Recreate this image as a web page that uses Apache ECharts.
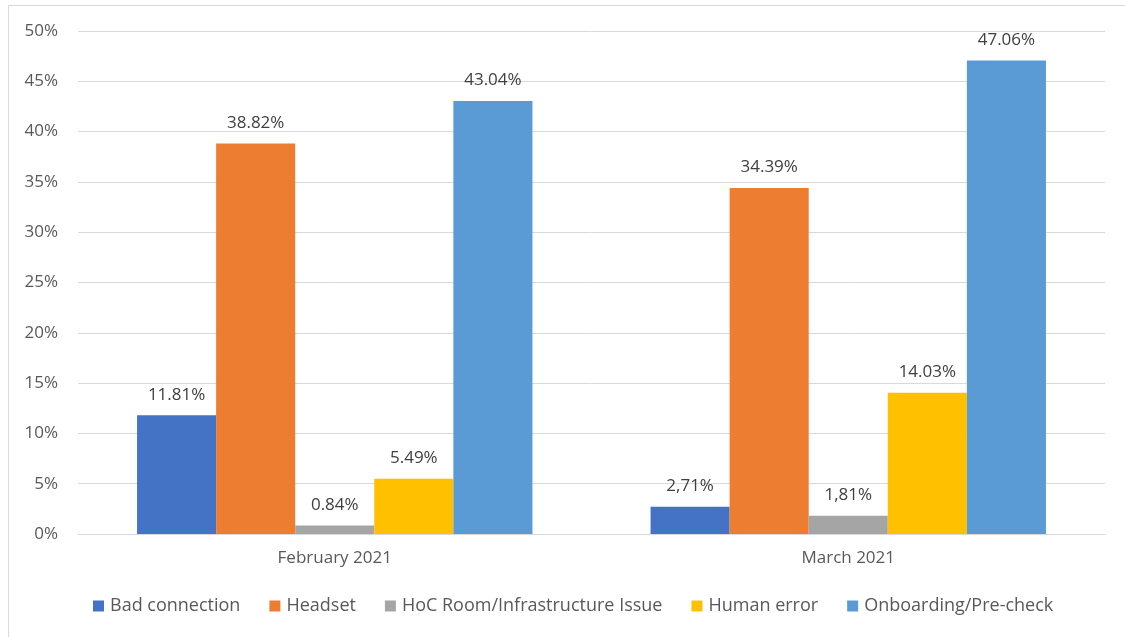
<!DOCTYPE html>
<html>
<head>
<meta charset="utf-8">
<script src="https://cdn.jsdelivr.net/npm/echarts@6/dist/echarts.min.js"></script>
<style>
html,body{margin:0;padding:0;background:#fff;}
#frame{position:absolute;left:8px;top:5px;width:1130px;height:640px;border:1px solid #d9d9d9;box-sizing:border-box;}
#chart{position:absolute;left:0;top:0;width:1125px;height:637px;}
</style>
</head>
<body>
<div id="frame"></div>
<div id="chart"></div>
<script>
const categories = ['February 2021', 'March 2021'];
const seriesNames = ['Bad connection', 'Headset', 'HoC Room/Infrastructure Issue', 'Human error', 'Onboarding/Pre-check'];
const badConnection = [11.81, 2.71];
const headset = [38.82, 34.39];
const hocRoom = [0.84, 1.81];
const humanError = [5.49, 14.03];
const onboarding = [43.04, 47.06];
const badConnectionLabels = ['11.81%', '2,71%'];
const headsetLabels = ['38.82%', '34.39%'];
const hocRoomLabels = ['0.84%', '1,81%'];
const humanErrorLabels = ['5.49%', '14.03%'];
const onboardingLabels = ['43.04%', '47.06%'];
const colors = ['#4472C4', '#ED7D31', '#A5A5A5', '#FFC000', '#5B9BD5'];

const values = [badConnection, headset, hocRoom, humanError, onboarding];
const labels = [badConnectionLabels, headsetLabels, hocRoomLabels, humanErrorLabels, onboardingLabels];
const font = "'Open Sans', 'Noto Sans', sans-serif";

const chart = echarts.init(document.getElementById('chart'));
chart.setOption({
  animation: false,
  textStyle: {fontFamily: font},
  grid: {left: 78, right: 20, top: 31, bottom: 103, containLabel: false},
  legend: {
    bottom: 17, left: 88,
    itemWidth: 11, itemHeight: 11, itemGap: 29,
    icon: 'rect',
    textStyle: {color: '#595959', fontSize: 18, fontFamily: font, padding: [0, 0, 0, 1]},
    data: seriesNames
  },
  xAxis: {
    type: 'category', data: categories,
    axisLine: {lineStyle: {color: '#d9d9d9'}},
    axisTick: {show: false},
    axisLabel: {color: '#595959', fontSize: 17, margin: 16}
  },
  yAxis: {
    type: 'value', min: 0, max: 50, interval: 5,
    axisLine: {show: false}, axisTick: {show: false},
    axisLabel: {color: '#595959', fontSize: 17, margin: 20, formatter: v => v + '%'},
    splitLine: {lineStyle: {color: '#d9d9d9'}}
  },
  series: seriesNames.map((n, i) => ({
    name: n, type: 'bar', data: values[i],
    barGap: '0%', barCategoryGap: '23%',
    itemStyle: {color: colors[i]},
    label: {
      show: true, position: 'top', distance: 12,
      color: '#404040', fontSize: 17, fontFamily: font,
      formatter: p => labels[i][p.dataIndex]
    }
  }))
});
</script>
</body>
</html>
